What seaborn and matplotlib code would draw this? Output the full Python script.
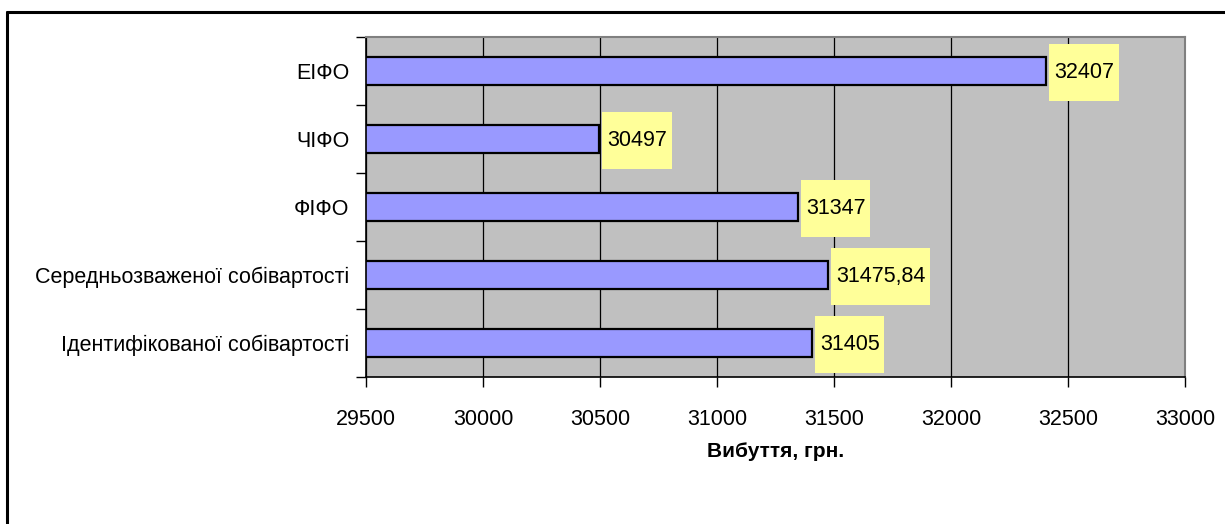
import matplotlib
matplotlib.use("Agg")
import matplotlib.pyplot as plt
from matplotlib.lines import Line2D
from matplotlib.patches import Rectangle
import seaborn as sns
import pandas as pd

# data
methods = ["ЕІФО", "ЧІФО", "ФІФО", "Середньозваженої собівартості", "Ідентифікованої собівартості"]
values = [32407, 30497, 31347, 31475.84, 31405]
value_labels = ["32407", "30497", "31347", "31475,84", "31405"]
x_ticks = [29500, 30000, 30500, 31000, 31500, 32000, 32500, 33000]

df = pd.DataFrame({"method": methods, "value": values})

sns.set_style("white")
plt.rcParams["font.family"] = ["Liberation Sans", "DejaVu Sans"]
for key in ["text.color", "axes.labelcolor", "xtick.color", "ytick.color"]:
    plt.rcParams[key] = "black"

fig = plt.figure(figsize=(12.25, 5.24), dpi=100)
ax = fig.add_axes([0.2988, 0.2805, 0.6685, 0.6489])
ax.set_facecolor("#C0C0C0")

sns.barplot(data=df, x="value", y="method", orient="h", color="#9999FF",
            edgecolor="black", linewidth=1.6, width=0.4, saturation=1, ax=ax)

ax.set_xlim(29500, 33000)
ax.set_ylim(4.5, -0.5)
ax.set_xticks(x_ticks)
ax.set_xticklabels([str(t) for t in x_ticks], fontsize=15.5)
ax.grid(axis="x", color="black", linewidth=0.9)
ax.set_axisbelow(True)

# category ticks sit between bars, like the old spreadsheet charts
ax.set_yticks([i + 0.5 for i in range(-1, len(methods))], minor=True)
ax.tick_params(axis="y", which="major", length=0, pad=12, labelsize=15.5)
ax.tick_params(axis="y", which="minor", length=7, width=1, color="black", left=True)
ax.tick_params(axis="x", which="major", length=7, width=1, color="black", bottom=True, pad=16)
ax.set_ylabel("")
ax.set_xlabel("Вибуття, грн.", fontsize=15, fontweight="bold", labelpad=9)

for side in ["left", "bottom"]:
    ax.spines[side].set_color("black")
    ax.spines[side].set_linewidth(1.2)
for side in ["top", "right"]:
    ax.spines[side].set_color("#808080")
    ax.spines[side].set_linewidth(1.5)

# value labels in yellow boxes
texts = []
for i, (v, lab) in enumerate(zip(values, value_labels)):
    t = ax.annotate(lab, xy=(v, i), xytext=(6, -1), textcoords="offset points",
                    ha="left", va="center", fontsize=15.5, zorder=5)
    texts.append(t)

fig.canvas.draw()
inv = ax.transData.inverted()
for i, (v, t) in enumerate(zip(values, texts)):
    bb = t.get_window_extent()
    x_left = inv.transform((ax.transData.transform((v, 0))[0] + 3, 0))[0]
    x_right = inv.transform((bb.x1 + 4, 0))[0]
    ax.add_patch(Rectangle((x_left, i - 0.4), x_right - x_left, 0.84,
                           facecolor="#FFFF99", edgecolor="none", zorder=4))

# outer frame (only top and left visible in the reference)
fig.add_artist(Line2D([0.0057, 1.0], [0.977, 0.977], color="black", linewidth=2.2))
fig.add_artist(Line2D([0.0057, 0.0057], [0.0, 0.977], color="black", linewidth=2.2))

fig.savefig("out.png", dpi=100)
